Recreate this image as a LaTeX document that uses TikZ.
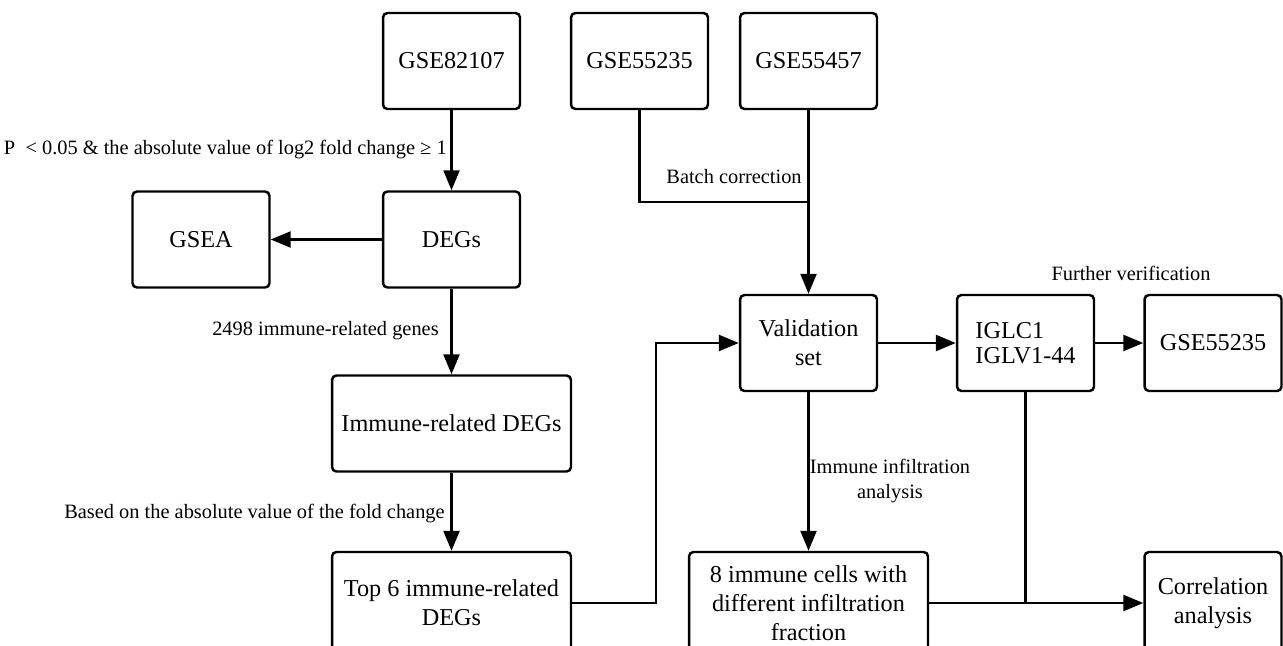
\documentclass[tikz,border=0pt]{standalone}
\usepackage{fontspec}
\setmainfont{Liberation Serif}
\usetikzlibrary{arrows.meta}

\begin{document}
\begin{tikzpicture}[x=0.02cm, y=-0.02cm,
  box/.style={draw, line width=1.4pt, rounded corners=2.5pt, align=center,
    inner sep=0pt, minimum width=2.74cm, minimum height=1.92cm,
    font=\fontsize{13.8}{16.5}\selectfont},
  wide/.style={minimum width=4.78cm},
  tall/.style={minimum height=2.04cm},
  link/.style={line width=1.4pt},
  flow/.style={link, -{Triangle[length=0.4cm, width=0.32cm]}},
  note/.style={font=\fontsize{11.6}{14}\selectfont, inner sep=0pt}]

% Canvas (bottom boxes run off the page)
\useasboundingbox (0,0) rectangle (1283,645);
\clip (0,0) rectangle (1283,645);

% Data sets
\node[box] (g82107) at (451.5,61) {GSE82107};
\node[box] (g55235) at (639.5,61) {GSE55235};
\node[box] (g55457) at (808.5,61) {GSE55457};

% Left branch
\node[box] (degs) at (451.5,239.5) {DEGs};
\node[box] (gsea) at (201,239.5) {GSEA};
\node[box, wide] (imdegs) at (451.5,423.5) {Immune-related DEGs};
\node[box, wide, tall] (top6) at (451.5,603) {Top 6 immune-related\\DEGs};

% Right branch
\node[box] (valid) at (808.5,343) {Validation\\set};
\node[box, align=left] (iglc) at (1025.5,343) {IGLC1\\[-2pt]IGLV1-44};
\node[box] (g55235b) at (1213,343) {GSE55235};
\node[box, wide, tall] (cells) at (808.5,603) {8 immune cells with\\different infiltration\\fraction};
\node[box, tall] (corr) at (1213,603) {Correlation\\analysis};

% Labels
\node[note, anchor=east] (pval) at (447,150) {P \ < 0.05 \& the absolute value of log2 fold change ≥ 1};
\node[note, anchor=east] (genes) at (439,331) {2498 immune-related genes};
\node[note, anchor=east] (fold) at (445,514) {Based on the absolute value of the fold change};
\node[note, anchor=east] (batch) at (802,177) {Batch correction};
\node[note, align=center] (infil) at (890,481) {Immune infiltration\\analysis};
\node[note] (further) at (1131,273) {Further verification};

% Helper points
\coordinate (merge) at (808.5,202);
\coordinate (turn) at (656,603);
\coordinate (split) at (iglc.south |- cells.east);

% Connectors
\draw[flow] (g82107) -- (degs);
\draw[flow] (degs) -- (gsea);
\draw[flow] (degs) -- (imdegs);
\draw[flow] (imdegs) -- (top6);
\draw[link] (g55235.south) |- (merge);
\draw[flow] (g55457) -- (valid);
\draw[flow] (top6.east) -- (turn) |- (valid.west);
\draw[flow] (valid) -- (iglc);
\draw[flow] (iglc) -- (g55235b);
\draw[flow] (valid) -- (cells);
\draw[flow] (cells) -- (corr);
\draw[link] (iglc.south) -- (split);

\end{tikzpicture}
\end{document}
